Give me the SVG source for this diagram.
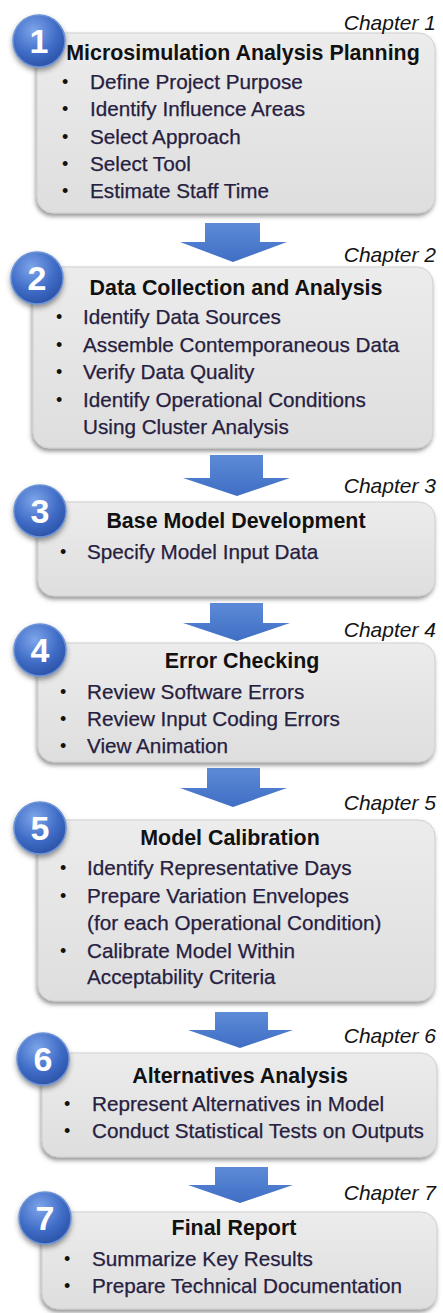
<svg xmlns="http://www.w3.org/2000/svg" width="443" height="1313" viewBox="0 0 443 1313">
<style>
.box{fill:url(#boxg);stroke:#cfcfcf;stroke-width:1;filter:url(#sh)}
.ttl{font-family:"Liberation Sans",Arial,sans-serif;font-weight:bold;font-size:21.4px;fill:#111111;text-anchor:middle}
.itm{font-family:"Liberation Sans",Arial,sans-serif;font-size:20.7px;fill:#262040;stroke:#262040;stroke-width:0.25}
.bul{font-family:"Liberation Sans",Arial,sans-serif;font-size:18px;fill:#111111}
.ch{font-family:"Liberation Sans",Arial,sans-serif;font-style:italic;font-size:21px;fill:#141414;text-anchor:end}
.num{font-family:"Liberation Sans",Arial,sans-serif;font-weight:bold;font-size:34px;fill:#ffffff;text-anchor:middle}
.circ{fill:url(#cg);stroke:#6b92d6;stroke-width:1.5;filter:url(#csh)}
.arr{fill:url(#ag)}
</style>
<defs>
<linearGradient id="boxg" x1="0" y1="0" x2="0" y2="1"><stop offset="0" stop-color="#ececec"/><stop offset="1" stop-color="#dedede"/></linearGradient>
<radialGradient id="cg" cx="0.4" cy="0.3" r="0.75"><stop offset="0" stop-color="#7ea5ea"/><stop offset="0.6" stop-color="#3f6cc6"/><stop offset="1" stop-color="#2a50a4"/></radialGradient>
<linearGradient id="ag" x1="0" y1="0" x2="0" y2="1"><stop offset="0" stop-color="#5d8bd8"/><stop offset="1" stop-color="#3f6ec4"/></linearGradient>
<filter id="sh" x="-5%" y="-10%" width="110%" height="125%"><feDropShadow dx="-1" dy="3" stdDeviation="2" flood-color="#444" flood-opacity="0.55"/></filter>
<filter id="csh" x="-30%" y="-30%" width="160%" height="170%"><feDropShadow dx="0" dy="3" stdDeviation="2.5" flood-color="#333" flood-opacity="0.5"/></filter>
</defs>
<g id="connectors">
<path class="arr" d="M205,223 H260 V242 H287 L233,262 L180,242 H205 Z"/>
<path class="arr" d="M210,455 H263 V478 H290 L237,496 L183,478 H210 Z"/>
<path class="arr" d="M210,603 H263 V623 H290 L237,641 L183,623 H210 Z"/>
<path class="arr" d="M207,768 H260 V788 H287 L233,807 L180,788 H207 Z"/>
<path class="arr" d="M215,1012 H268 V1030 H293 L240,1048 L188,1030 H215 Z"/>
<path class="arr" d="M215,1167 H268 V1185 H293 L240,1203 L188,1185 H215 Z"/>
</g>
<g id="step1">
<rect class="box" x="37" y="33" width="398" height="180" rx="16"/>
<text class="ch" x="436" y="30">Chapter 1</text>
<text class="ttl" x="243" y="60">Microsimulation Analysis Planning</text>
<text class="bul" x="62" y="88">•</text><text class="itm" x="90" y="89">Define Project Purpose</text>
<text class="bul" x="62" y="115">•</text><text class="itm" x="90" y="116">Identify Influence Areas</text>
<text class="bul" x="62" y="143">•</text><text class="itm" x="90" y="144">Select Approach</text>
<text class="bul" x="62" y="170">•</text><text class="itm" x="90" y="171">Select Tool</text>
<text class="bul" x="62" y="197">•</text><text class="itm" x="90" y="198">Estimate Staff Time</text>
<circle class="circ" cx="39" cy="41" r="26"/>
<text class="num" x="39" y="53">1</text>
</g>
<g id="step2">
<rect class="box" x="33" y="267" width="400" height="181" rx="16"/>
<text class="ch" x="436" y="262">Chapter 2</text>
<text class="ttl" x="236" y="295">Data Collection and Analysis</text>
<text class="bul" x="56" y="323">•</text><text class="itm" x="83" y="324">Identify Data Sources</text>
<text class="bul" x="56" y="351">•</text><text class="itm" x="83" y="352">Assemble Contemporaneous Data</text>
<text class="bul" x="56" y="378">•</text><text class="itm" x="83" y="379">Verify Data Quality</text>
<text class="bul" x="56" y="406">•</text><text class="itm" x="83" y="407">Identify Operational Conditions</text>
<text class="itm" x="83" y="434">Using Cluster Analysis</text>
<circle class="circ" cx="37" cy="278" r="26"/>
<text class="num" x="37" y="290">2</text>
</g>
<g id="step3">
<rect class="box" x="38" y="502" width="397" height="94" rx="16"/>
<text class="ch" x="436" y="493">Chapter 3</text>
<text class="ttl" x="236" y="528">Base Model Development</text>
<text class="bul" x="60" y="558">•</text><text class="itm" x="87" y="559">Specify Model Input Data</text>
<circle class="circ" cx="40" cy="511" r="26"/>
<text class="num" x="40" y="523">3</text>
</g>
<g id="step4">
<rect class="box" x="38" y="643" width="397" height="119" rx="16"/>
<text class="ch" x="436" y="637">Chapter 4</text>
<text class="ttl" x="242" y="668">Error Checking</text>
<text class="bul" x="60" y="698">•</text><text class="itm" x="87" y="699">Review Software Errors</text>
<text class="bul" x="60" y="725">•</text><text class="itm" x="87" y="726">Review Input Coding Errors</text>
<text class="bul" x="60" y="752">•</text><text class="itm" x="87" y="753">View Animation</text>
<circle class="circ" cx="40" cy="650" r="26"/>
<text class="num" x="40" y="662">4</text>
</g>
<g id="step5">
<rect class="box" x="38" y="820" width="397" height="181" rx="16"/>
<text class="ch" x="436" y="810">Chapter 5</text>
<text class="ttl" x="230" y="845">Model Calibration</text>
<text class="bul" x="60" y="874">•</text><text class="itm" x="87" y="875">Identify Representative Days</text>
<text class="bul" x="60" y="902">•</text><text class="itm" x="87" y="903">Prepare Variation Envelopes</text>
<text class="itm" x="87" y="930">(for each Operational Condition)</text>
<text class="bul" x="60" y="957">•</text><text class="itm" x="87" y="958">Calibrate Model Within</text>
<text class="itm" x="87" y="984">Acceptability Criteria</text>
<circle class="circ" cx="40" cy="828" r="26"/>
<text class="num" x="40" y="840">5</text>
</g>
<g id="step6">
<rect class="box" x="42" y="1053" width="395" height="104" rx="16"/>
<text class="ch" x="436" y="1043">Chapter 6</text>
<text class="ttl" x="240" y="1083">Alternatives Analysis</text>
<text class="bul" x="64" y="1110">•</text><text class="itm" x="92" y="1111">Represent Alternatives in Model</text>
<text class="bul" x="64" y="1137">•</text><text class="itm" x="92" y="1138">Conduct Statistical Tests on Outputs</text>
<circle class="circ" cx="43" cy="1059" r="26"/>
<text class="num" x="43" y="1071">6</text>
</g>
<g id="step7">
<rect class="box" x="42" y="1212" width="395" height="97" rx="16"/>
<text class="ch" x="436" y="1200">Chapter 7</text>
<text class="ttl" x="234" y="1235">Final Report</text>
<text class="bul" x="64" y="1265">•</text><text class="itm" x="92" y="1266">Summarize Key Results</text>
<text class="bul" x="64" y="1292">•</text><text class="itm" x="92" y="1293">Prepare Technical Documentation</text>
<circle class="circ" cx="45" cy="1218" r="26"/>
<text class="num" x="45" y="1230">7</text>
</g>
</svg>
